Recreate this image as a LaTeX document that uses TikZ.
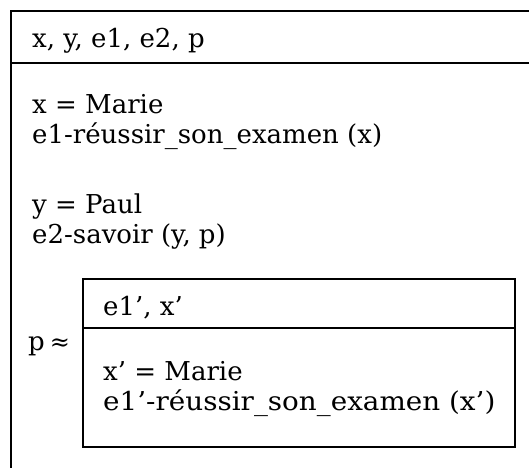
\documentclass[tikz,border=0pt]{standalone}
\usepackage{fontspec}
\setmainfont{DejaVu Serif}
\newfontfamily\widerfont[FakeStretch=1.07]{DejaVu Serif}
\begin{document}
\begin{tikzpicture}[x=1pt,y=-1pt,
  frame/.style={line width=2pt,black},
  txt/.style={anchor=base west,inner sep=0pt,font=\fontsize{26}{30}\selectfont}]
\useasboundingbox (0,0) rectangle (529,467);
% outer frame (cut by the page on the right and bottom)
\coordinate (oTL) at (11,11);
\coordinate (oTR) at (530,11);
\coordinate (oBL) at (11,468);
\coordinate (oDL) at (11,62.5);
\coordinate (oDR) at (530,62.5);
\draw[frame] (oBL) -- (oTL) -- (oTR);
\draw[frame] (oDL) -- (oDR);
% inner box
\coordinate (iTL) at (83,279);
\coordinate (iBR) at (515,447);
\coordinate (iDL) at (83,327.5);
\coordinate (iDR) at (515,327.5);
\draw[frame] (iTL) rectangle (iBR);
\draw[frame] (iDL) -- (iDR);
% texts
\node[txt] (t0) at (32,47) {x, y, e1, e2, p};
\node[txt] (t1) at (32,113) {x = Marie};
\node[txt] (t2) at (32,143) {e1-réussir\_son\_examen (x)};
\node[txt] (t3) at (32,213) {y = Paul};
\node[txt] (t4) at (32,243) {e2-savoir (y, p)};
\node[txt] (pp) at (28,350) {p\hspace{5pt}{\fontsize{24}{30}\selectfont ≈}};
\node[txt] (i0) at (103,315) {e1’, x’};
\node[txt] (i1) at (103,380) {x’ = Marie};
\node[txt] (i2) at (103,410) {\widerfont e1’-réussir\_son\_examen (x’)};
\end{tikzpicture}
\end{document}
